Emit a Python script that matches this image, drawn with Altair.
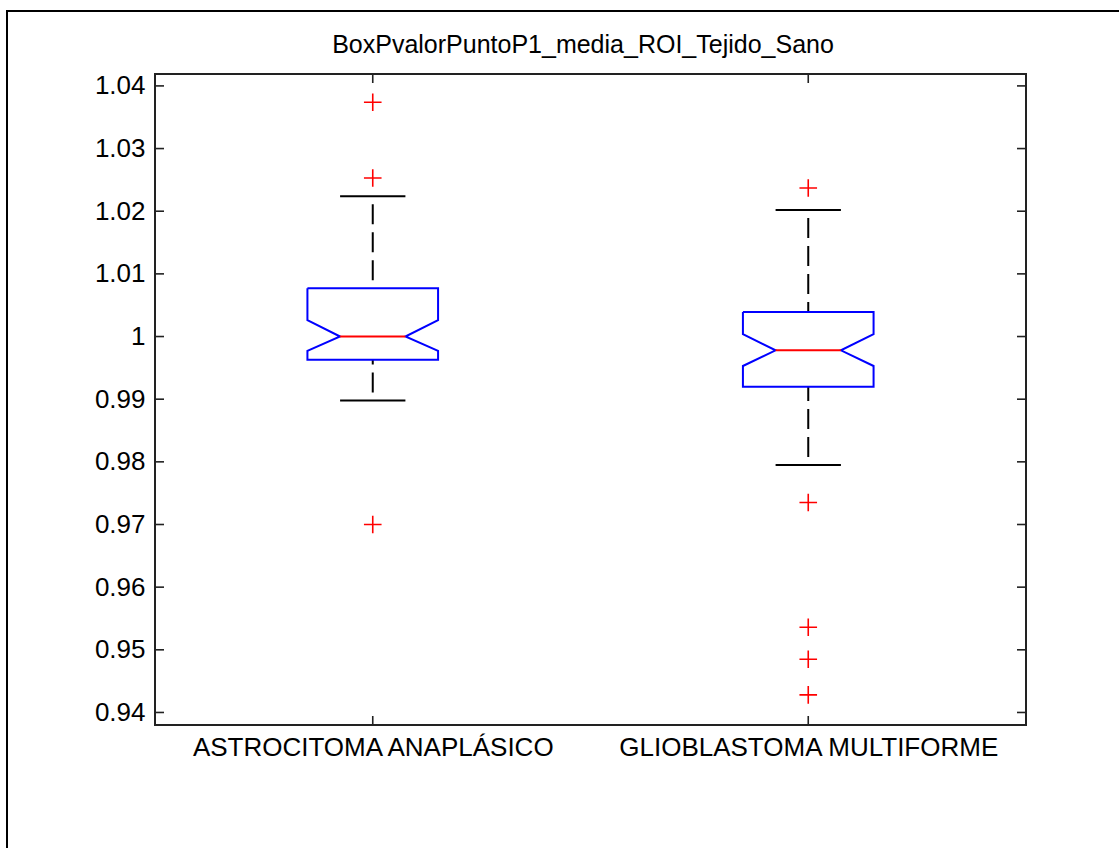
import altair as alt
import pandas as pd

# ---- data -------------------------------------------------------------
groups = ["ASTROCITOMA ANAPLÁSICO", "GLIOBLASTOMA MULTIFORME"]
positions = [1, 2]
q1 = [0.9963, 0.9920]
q3 = [1.0077, 1.0039]
median = [1.0000, 0.9978]
notch_lo = [0.9977, 0.9953]
notch_hi = [1.0026, 1.0004]
whisker_lo = [0.9898, 0.9795]
whisker_hi = [1.0224, 1.0202]
outliers_astro = [1.0374, 1.0253, 0.9700]
outliers_glio = [1.0237, 0.9735, 0.9536, 0.9485, 0.9428]
y_ticks = [0.94, 0.95, 0.96, 0.97, 0.98, 0.99, 1.00, 1.01, 1.02, 1.03, 1.04]
title_text = "BoxPvalorPuntoP1_media_ROI_Tejido_Sano"

# ---- geometry / style -------------------------------------------------
BOX_HALF = 0.15      # half width of each box (x units)
NOTCH_HALF = 0.075   # half width at the notch waist and whisker caps
W, H = 871, 651
FONT = "Liberation Sans"
FS_TITLE = 25
FS_LABEL = 26

# ---- tables -----------------------------------------------------------
outline_rows = []
for g, c, a, b, m, nl, nh in zip(groups, positions, q1, q3, median, notch_lo, notch_hi):
    pts = [
        (c - BOX_HALF, b), (c + BOX_HALF, b), (c + BOX_HALF, nh), (c + NOTCH_HALF, m),
        (c + BOX_HALF, nl), (c + BOX_HALF, a), (c - BOX_HALF, a), (c - BOX_HALF, nl),
        (c - NOTCH_HALF, m), (c - BOX_HALF, nh), (c - BOX_HALF, b),
    ]
    for i, (x, y) in enumerate(pts):
        outline_rows.append({"group": g, "x": x, "y": y, "order": i})
outline = pd.DataFrame(outline_rows)

stats = pd.DataFrame({
    "group": groups, "pos": positions, "q1": q1, "q3": q3, "median": median,
    "wlo": whisker_lo, "whi": whisker_hi,
})
stats["left"] = stats["pos"] - NOTCH_HALF
stats["right"] = stats["pos"] + NOTCH_HALF

whiskers = pd.concat([
    pd.DataFrame({"pos": positions, "end": whisker_hi, "start": q3}),
    pd.DataFrame({"pos": positions, "end": whisker_lo, "start": q1}),
])
caps = pd.concat([
    pd.DataFrame({"left": stats["left"], "right": stats["right"], "y": whisker_hi}),
    pd.DataFrame({"left": stats["left"], "right": stats["right"], "y": whisker_lo}),
])
outliers = pd.DataFrame({
    "pos": [positions[0]] * len(outliers_astro) + [positions[1]] * len(outliers_glio),
    "value": outliers_astro + outliers_glio,
})
yt = pd.DataFrame({"y": y_ticks})
xt = pd.DataFrame({"x": positions})

# ---- scales & axes ----------------------------------------------------
label_expr = "''"
for p, g in reversed(list(zip(positions, groups))):
    label_expr = f"datum.value == {p} ? '{g}' : {label_expr}"

X_SCALE = alt.Scale(domain=[0.5, 2.5], nice=False, zero=False)
Y_SCALE = alt.Scale(domain=[0.938, 1.0419], nice=False, zero=False)
X_AXIS = alt.Axis(values=positions, labelExpr=label_expr, ticks=False, domain=False,
                  grid=False, labelFontSize=FS_LABEL, labelFont=FONT, labelColor="black",
                  labelPadding=9, labelFlush=False, labelOverlap=False, labelLimit=0,
                  title=None)
Y_AXIS = alt.Axis(values=y_ticks, format=".2~f", ticks=False, domain=False, grid=False,
                  labelFontSize=FS_LABEL, labelFont=FONT, labelColor="black",
                  labelPadding=10, labelFlush=False, labelOverlap=False, labelLimit=0,
                  title=None)


def X(field):
    return alt.X(field, type="quantitative", scale=X_SCALE, axis=X_AXIS)


def Y(field):
    return alt.Y(field, type="quantitative", scale=Y_SCALE, axis=Y_AXIS)


# ---- layers -----------------------------------------------------------
box = alt.Chart(outline).mark_line(color="#0000ff", strokeWidth=2, interpolate="linear").encode(
    x=X("x"), y=Y("y"), order="order:Q", detail="group:N"
)

median_line = alt.Chart(stats).mark_rule(color="#ff0000", strokeWidth=2).encode(
    x=X("left"), x2="right:Q", y=Y("median")
)

whisker_lines = alt.Chart(whiskers).mark_rule(
    color="black", strokeWidth=2, strokeDash=[20, 8], strokeDashOffset=20
).encode(x=X("pos"), y=Y("end"), y2="start:Q")

cap_lines = alt.Chart(caps).mark_rule(color="black", strokeWidth=2).encode(
    x=X("left"), x2="right:Q", y=Y("y")
)

outlier_marks = alt.Chart(outliers).mark_point(
    shape="M-1,0L1,0M0,-1L0,1", size=310, stroke="#ff0000", strokeWidth=1.6,
    filled=False, opacity=1
).encode(x=X("pos"), y=Y("value"))

# inward tick marks on all four sides of the axes box
tick_style = dict(color="#222222", strokeWidth=1.6)
left_ticks = alt.Chart(yt).mark_rule(**tick_style).encode(
    y=Y("y"), x=alt.value(0), x2=alt.value(9))
right_ticks = alt.Chart(yt).mark_rule(**tick_style).encode(
    y=Y("y"), x=alt.value(W - 9), x2=alt.value(W))
bottom_ticks = alt.Chart(xt).mark_rule(**tick_style).encode(
    x=X("x"), y=alt.value(H - 9), y2=alt.value(H))
top_ticks = alt.Chart(xt).mark_rule(**tick_style).encode(
    x=X("x"), y=alt.value(0), y2=alt.value(9))

title = alt.Chart(pd.DataFrame({"t": [title_text]})).mark_text(
    font=FONT, fontSize=FS_TITLE, color="black", align="center", baseline="alphabetic"
).encode(text="t:N", x=alt.value(428), y=alt.value(-21))

# figure frame (top and left edges)
frame_top = alt.Chart(pd.DataFrame({"k": [0]})).mark_rule(color="black", strokeWidth=2).encode(
    x=alt.value(-148), x2=alt.value(964), y=alt.value(-63))
frame_left = alt.Chart(pd.DataFrame({"k": [0]})).mark_rule(color="black", strokeWidth=2).encode(
    x=alt.value(-148), y=alt.value(-64), y2=alt.value(774))

chart = alt.layer(
    whisker_lines, cap_lines, box, median_line, outlier_marks,
    left_ticks, right_ticks, bottom_ticks, top_ticks, title, frame_top, frame_left,
).properties(
    width=W, height=H, background="white",
    autosize=alt.AutoSizeParams(type="none"),
    padding={"left": 155, "top": 74, "right": 93, "bottom": 123},
).configure_view(stroke="#222222", strokeWidth=2)

chart.save("out.html", embed_options={"renderer": "svg", "actions": False})
